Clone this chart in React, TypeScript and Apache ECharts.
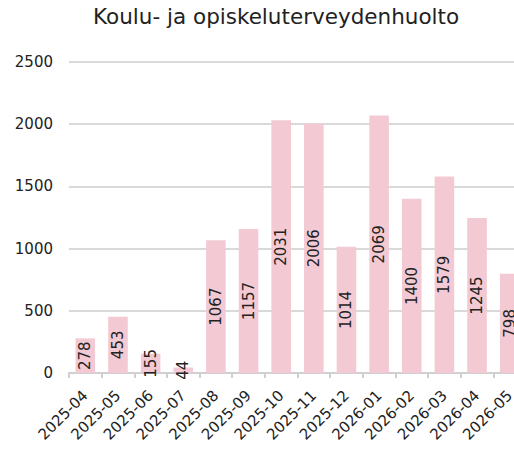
import React, { useEffect, useRef } from "react";
import * as echarts from "echarts";

const categories = [
  "2025-04", "2025-05", "2025-06", "2025-07", "2025-08", "2025-09", "2025-10",
  "2025-11", "2025-12", "2026-01", "2026-02", "2026-03", "2026-04", "2026-05",
];
const values = [278, 453, 155, 44, 1067, 1157, 2031, 2006, 1014, 2069, 1400, 1579, 1245, 798];
const yTicks = { min: 0, max: 2500, interval: 500 };
const titleText = "Koulu- ja opiskeluterveydenhuolto";

const FONT = "'DejaVu Sans', Verdana, sans-serif";

export default function App() {
  const ref = useRef<HTMLDivElement>(null);
  useEffect(() => {
    document.body.style.margin = "0";
    const chart = echarts.init(ref.current!, null, { renderer: "svg" });
    chart.setOption({
      animation: false,
      textStyle: { fontFamily: FONT },
      title: {
        text: titleText,
        left: 88,
        top: 0,
        textStyle: { fontFamily: FONT, fontSize: 21.5, fontWeight: "normal", color: "#222" },
      },
      grid: { left: 69, top: 62, width: 457, height: 311, containLabel: false },
      xAxis: {
        type: "category",
        data: categories,
        axisLine: { lineStyle: { color: "#d0d0d0", width: 2 } },
        axisTick: { show: true, length: 5, lineStyle: { color: "#d0d0d0", width: 2 } },
        axisLabel: { rotate: 45, fontSize: 15, color: "#222", fontFamily: FONT, margin: 20 },
      },
      yAxis: {
        type: "value",
        min: yTicks.min,
        max: yTicks.max,
        interval: yTicks.interval,
        axisLine: { show: false },
        axisTick: { show: false },
        splitLine: { lineStyle: { color: "#d9d9d9", width: 2 } },
        axisLabel: {
          fontSize: 15,
          color: "#222",
          fontFamily: FONT,
          margin: 16,
          formatter: (v: number) => String(v),
        },
      },
      series: [
        {
          type: "bar",
          data: values,
          barCategoryGap: "40%",
          itemStyle: { color: "#f3c9d3" },
          label: {
            show: true,
            position: "inside",
            rotate: 90,
            fontSize: 15,
            color: "#222",
            fontFamily: FONT,
          },
        },
      ],
    });
    return () => chart.dispose();
  }, []);
  return (
    <div style={{ position: "absolute", left: 0, top: 0, width: 514, height: 452, overflow: "hidden" }}>
      <div ref={ref} style={{ width: 540, height: 452 }} />
    </div>
  );
}
